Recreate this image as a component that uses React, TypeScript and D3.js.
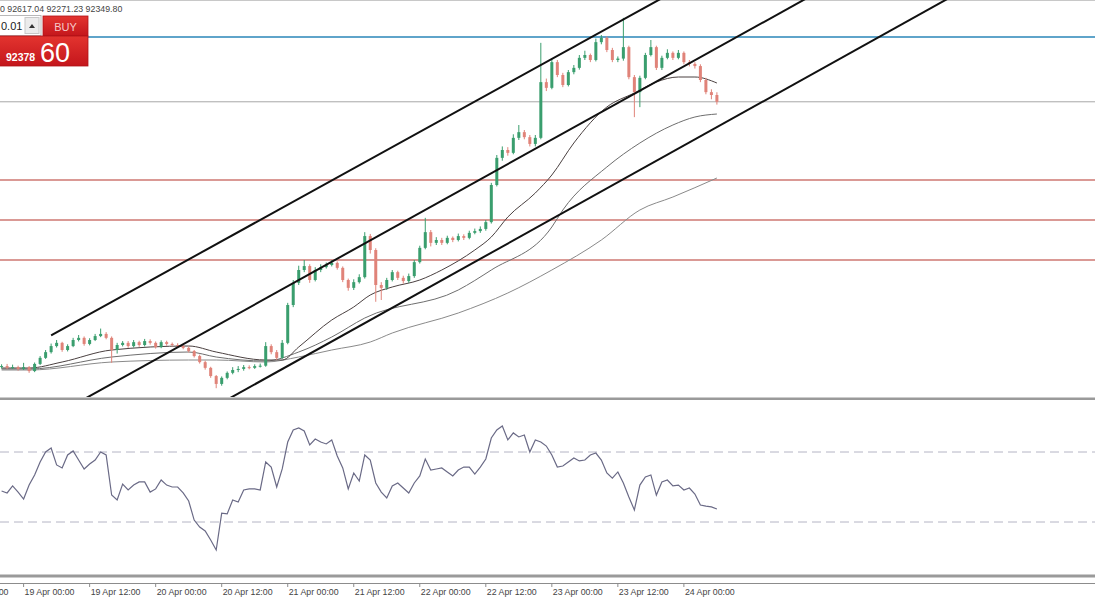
import React from "react";
import * as d3 from "d3";

// ---------- DATA (hourly candles, 18 Apr 20:00 -> 24 Apr 06:00) ----------
const opens = [84930,84950,84900,84920,84870,84920,84810,85010,85180,85340,
 85510,85600,85400,85510,85680,85740,85570,85680,85790,85850,
 85740,85400,85540,85600,85510,85620,85540,85650,85600,85480,
 85620,85570,85540,85510,85460,85370,85230,85060,84900,84670,
 84450,84620,84760,84840,84870,84920,84900,84950,84960,85510,
 85340,85180,85600,86660,87280,87640,87750,87360,87640,87720,
 87780,87840,87700,87360,87140,87300,87440,88590,88200,87220,
 87140,87360,87580,87420,87330,87470,87860,88260,88700,88400,
 88480,88400,88540,88480,88590,88540,88680,88730,88790,88980,
 90020,90780,91000,90920,91340,91500,91360,91170,91340,92900,
 92740,93460,93100,92820,93180,93300,93580,93660,93520,94020,
 94140,93800,93520,93560,93880,93040,92620,93020,93660,93880,
 93300,93580,93720,93580,93720,93460,93410,93350,92960,92620,
 92540];
const closes = [84950,84900,84920,84870,84920,84810,85010,85180,85340,85510,
 85600,85400,85510,85680,85740,85570,85680,85790,85850,85740,
 85400,85540,85600,85510,85620,85540,85650,85600,85480,85620,
 85570,85540,85510,85460,85370,85230,85060,84900,84670,84450,
 84620,84760,84840,84870,84920,84900,84950,84960,85510,85340,
 85180,85600,86660,87280,87640,87750,87360,87640,87720,87780,
 87840,87700,87360,87140,87300,87440,88590,88200,87220,87140,
 87360,87580,87420,87330,87470,87860,88260,88700,88400,88480,
 88400,88540,88480,88590,88540,88680,88730,88790,88980,90020,
 90780,91000,90920,91340,91500,91360,91170,91340,92900,92740,
 93460,93100,92820,93180,93300,93580,93660,93520,94020,94140,
 93800,93520,93560,93880,93040,92620,93020,93660,93880,93300,
 93580,93720,93580,93720,93460,93410,93350,92960,92620,92540,
 92349.8];
const highs = [85000,85010,84990,84960,85040,84950,85050,85230,85400,85580,
 85680,85630,85560,85740,85820,85780,85730,85850,86000,85900,
 85780,85600,85650,85650,85680,85660,85710,85700,85640,85670,
 85660,85610,85590,85560,85500,85400,85270,85100,84930,84700,
 84660,84800,84920,84950,84980,84970,85000,85020,85620,85560,
 85400,85680,86720,87360,87760,87920,87800,87720,87800,87850,
 87920,87880,87740,87400,87380,87520,88700,88650,88250,87300,
 87420,87640,87620,87480,87540,87920,88320,89100,88760,88560,
 88540,88600,88580,88660,88640,88740,88800,88860,89040,90080,
 90860,91100,91080,91440,91700,91560,91420,91420,94000,93000,
 93560,93520,93160,93240,93380,93660,93780,93700,94120,94220,
 94180,93860,93620,94700,93920,93100,93080,93720,94080,93920,
 93640,93820,93760,93800,93760,93520,93460,93400,93020,92700,
 92617.04];
const lows = [84880,84860,84870,84820,84840,84760,84780,84980,85150,85300,
 85470,85350,85360,85480,85640,85520,85530,85650,85760,85700,
 85040,85300,85500,85460,85470,85490,85500,85550,85440,85450,
 85520,85500,85470,85420,85330,85190,85020,84850,84620,84330,
 84400,84580,84720,84780,84820,84860,84870,84910,84930,85280,
 85120,85150,85560,86600,87220,87580,87280,87320,87580,87680,
 87740,87650,87300,87060,87080,87260,87400,88100,86750,86800,
 87080,87320,87360,87260,87280,87420,87820,88220,88300,88340,
 88340,88360,88420,88440,88480,88500,88640,88680,88740,88940,
 89980,90700,90840,90880,91280,91300,91100,91100,91300,92650,
 92700,93040,92760,92780,93120,93250,93520,93460,93480,93960,
 93740,93460,93460,93500,92980,91920,92200,92980,93620,93240,
 93240,93540,93520,93540,93400,93340,93280,92900,92560,92420,
 92271.23];

const maFastBars = [0,5,11,20,34,39,48,51,54,60,64,67,71,76,80,86,89,92,97,100,104,110,115,119,123,126,130];
const maFastValues = [84896,84896,85064,85400,85512,85344,85120,85120,85484,86240,86604,86940,87164,87360,87640,88200,88564,89124,89796,90300,91196,92204,92596,92904,93044,93044,92876];
const maMidBars = [0,5,20,34,39,48,54,60,66,83,89,100,102,110,116,122,126,130];
const maMidValues = [84868,84868,85204,85344,85204,85092,85344,85764,86296,87080,87640,88844,89320,90524,91196,91700,91924,92008];
const maSlowBars = [0,5,20,34,39,48,54,60,67,71,83,92,100,109,116,122,130];
const maSlowValues = [84840,84840,85064,85120,85120,85064,85204,85400,85624,85876,86436,86996,87640,88480,89320,89684,90216];

// RSI values per bar
const rsiValues = [47.7,46.6,50.6,47.1,43.1,51.1,56.9,64.3,70.0,72.3,
 62.6,60.9,68.3,70.6,65.4,60.3,63.1,65.4,70.0,68.3,
 45.4,42.6,51.7,48.3,51.1,52.9,52.9,47.1,48.9,54.0,
 51.1,50.0,50.0,46.6,42.0,31.1,27.1,24.9,19.7,14.0,
 35.1,34.6,42.6,41.4,48.3,48.9,48.9,48.3,64.3,61.4,
 50.0,60.3,75.7,82.6,83.7,82.0,74.0,77.4,75.7,74.6,
 76.9,67.7,60.9,48.9,58.0,53.4,68.3,65.4,52.3,47.1,
 43.7,50.6,52.3,49.4,46.6,52.3,56.3,66.0,59.7,60.3,
 60.9,58.6,56.3,59.7,61.4,61.4,57.4,61.4,66.0,78.0,
 82.6,84.9,76.9,80.9,78.6,79.7,70.0,76.9,75.7,73.4,
 68.3,61.4,62.0,64.3,66.6,64.9,65.4,68.3,69.4,65.4,
 58.0,55.1,58.6,52.3,44.3,36.9,51.1,55.7,56.9,45.4,
 52.9,54.0,50.6,51.1,48.3,49.4,46.0,39.7,39.1,38.6,
 37.4];
const rsiLevels = [70, 30];

// horizontal levels
const blueLevel = 94164;
const bidLevel = 92349.8;
const redLevels = [90160, 89040, 87920];

// trend channel anchors [bar, price]
const channels = [
  [[9, 85810], [125, 95675]],
  [[10, 83597], [150, 95564]],
  [[40, 83924], [180, 95925]],
];

const timeLabels = ["18 Apr 12:00","19 Apr 00:00","19 Apr 12:00","20 Apr 00:00","20 Apr 12:00","21 Apr 00:00","21 Apr 12:00","22 Apr 00:00","22 Apr 12:00","23 Apr 00:00","23 Apr 12:00","24 Apr 00:00"];
const headerText = "0 92617.04 92271.23 92349.80";
const lotText = "0.01";
const buyText = "BUY";
const askBig = "92378";
const askPips = "60";

// ---------- CHART ----------
const W = 1095, H = 600;
const MAIN_BOTTOM = 397;
const BULL = "#3a9e6e", BEAR = "#e08379";
const FONT = "'Liberation Sans', Arial, sans-serif";

export default function App() {
  const x = d3.scaleLinear().domain([0, 130]).range([1.6, 716.9]);
  const y = d3.scaleLinear().domain([84084, 95200]).range([MAIN_BOTTOM, 0]);
  const ry = d3.scaleLinear().domain([0, 100]).range([574.5, 399.5]);

  const maLine = (bars: number[], vals: number[]) =>
    d3.line<number>().x((_, i) => x(bars[i])).y((v) => y(v)).curve(d3.curveMonotoneX)(vals) || "";
  const rsiPath = d3.line<number>().x((_, i) => x(i)).y((v) => ry(v))(rsiValues) || "";
  const chanPath = (c: number[][]) =>
    d3.line<number[]>().x((d) => x(d[0])).y((d) => y(d[1]))(c) || "";

  const tickBars = timeLabels.map((_, k) => -8 + 12 * k);

  return (
    <svg width={W} height={H} style={{ position: "absolute", left: 0, top: 0, background: "#fff" }} fontFamily={FONT}>
      <defs>
        <clipPath id="mainClip"><rect x={0} y={0} width={W} height={MAIN_BOTTOM} /></clipPath>
        <linearGradient id="redGrad" x1="0" y1="0" x2="0" y2="1">
          <stop offset="0" stopColor="#e3342f" />
          <stop offset="1" stopColor="#c4161c" />
        </linearGradient>
      </defs>
      <rect x={0} y={0} width={W} height={H} fill="#fff" />
      <line x1={0} x2={W} y1={0.5} y2={0.5} stroke="#c8c8c8" />

      <g clipPath="url(#mainClip)">
        {/* horizontal levels */}
        <line x1={0} x2={W} y1={y(blueLevel)} y2={y(blueLevel)} stroke="#2a86b8" strokeWidth={1.3} />
        <line x1={0} x2={W} y1={y(bidLevel)} y2={y(bidLevel)} stroke="#a8a8a8" strokeWidth={1} />
        {redLevels.map((p, i) => (
          <line key={i} x1={0} x2={W} y1={y(p)} y2={y(p)} stroke="#b5352c" strokeWidth={1.2} />
        ))}
        {/* moving averages */}
        <path d={maLine(maSlowBars, maSlowValues)} fill="none" stroke="#8a8a8a" strokeWidth={1} />
        <path d={maLine(maMidBars, maMidValues)} fill="none" stroke="#6e6e6e" strokeWidth={1} />
        <path d={maLine(maFastBars, maFastValues)} fill="none" stroke="#4a4040" strokeWidth={1} />
        {/* candles */}
        {closes.map((c, i) => {
          const o = opens[i];
          const col = c >= o ? BULL : BEAR;
          const top = y(Math.max(o, c));
          const bot = y(Math.min(o, c));
          const cx = x(i);
          return (
            <g key={i}>
              <line x1={cx} x2={cx} y1={y(highs[i])} y2={y(lows[i])} stroke={col} strokeWidth={1} />
              <rect x={cx - 1.5} y={top} width={3} height={Math.max(1, bot - top)} fill={col} />
            </g>
          );
        })}
        {/* channel lines */}
        {channels.map((c, i) => (
          <path key={i} d={chanPath(c)} fill="none" stroke="#111" strokeWidth={2} />
        ))}
      </g>

      {/* separators */}
      <rect x={0} y={397.5} width={W} height={2.5} fill="#9a9a9a" />
      <rect x={0} y={574.5} width={W} height={3} fill="#9a9a9a" />
      <line x1={0} x2={W} y1={583.5} y2={583.5} stroke="#8c8c8c" />

      {/* RSI */}
      {rsiLevels.map((l) => (
        <line key={l} x1={0} x2={W} y1={ry(l)} y2={ry(l)} stroke="#b4b4c4" strokeWidth={1} strokeDasharray="9,5" />
      ))}
      <path d={rsiPath} fill="none" stroke="#6a6a86" strokeWidth={1.2} />

      {/* time axis */}
      {tickBars.map((b, k) => (
        <g key={k}>
          <line x1={x(b)} x2={x(b)} y1={583.5} y2={587} stroke="#8c8c8c" />
          <text x={x(b) + 1} y={595} fontSize={8.8} fill="#444">{timeLabels[k]}</text>
        </g>
      ))}

      {/* header */}
      <text x={0} y={12} fontSize={8.8} fill="#444">{headerText}</text>

      {/* one-click trading panel */}
      <rect x={-1} y={15.5} width={42} height={20} fill="#fff" stroke="#b8b8b8" />
      <text x={1} y={30} fontSize={11} fill="#222">{lotText}</text>
      <rect x={25} y={17.5} width={14} height={16} fill="#ececec" stroke="#c8c8c8" />
      <path d="M29,28 L32,24 L35,28 Z" fill="#333" />
      <rect x={43} y={16} width={45} height={20} fill="url(#redGrad)" stroke="#b01217" strokeWidth={0.8} />
      <text x={65.5} y={30.5} fontSize={11} fill="#f6c9c9" textAnchor="middle">{buyText}</text>
      <rect x={-1} y={36} width={89} height={30} fill="url(#redGrad)" stroke="#b01217" strokeWidth={0.8} />
      <text x={6} y={61} fontSize={10.5} fontWeight="bold" fill="#fff">{askBig}</text>
      <text x={40} y={62} fontSize={27} fill="#fff">{askPips}</text>
    </svg>
  );
}
